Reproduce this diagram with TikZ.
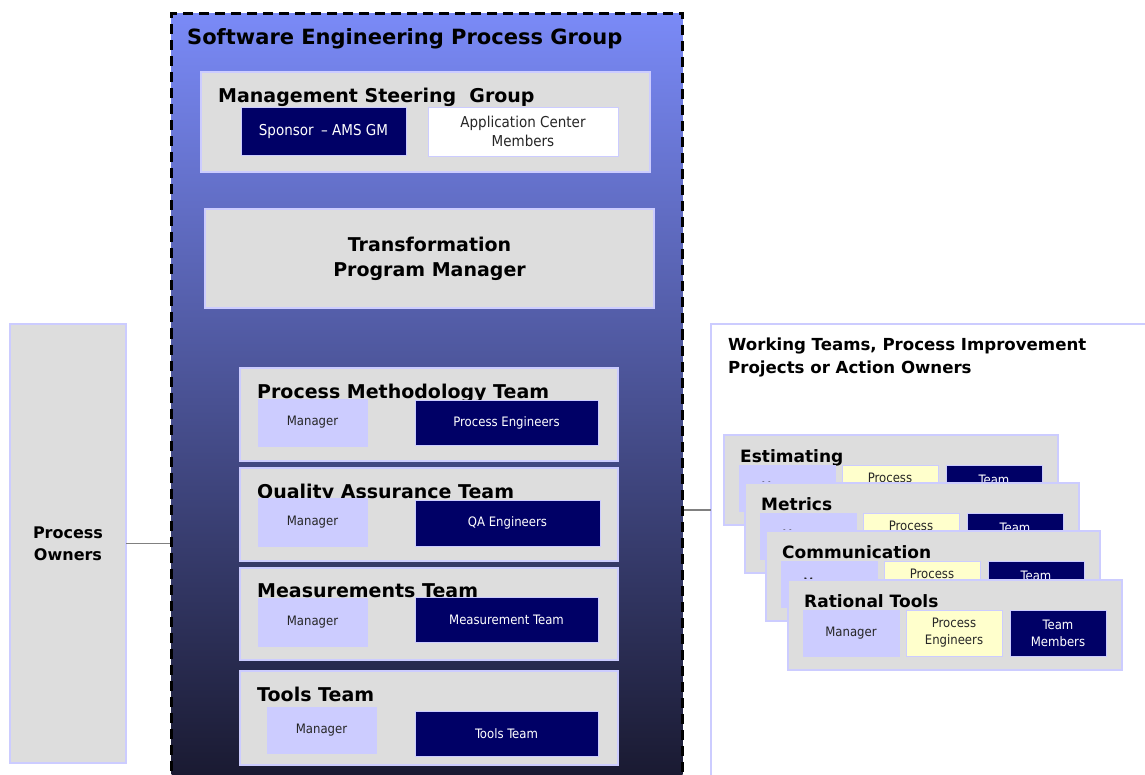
\documentclass[tikz,border=0pt]{standalone}
\usepackage{fontspec}
\setmainfont{DejaVu Sans}
\newfontfamily\condfont{DejaVu Sans Condensed}
\usetikzlibrary{positioning}

\definecolor{lav}{RGB}{204,204,255}
\definecolor{grey}{RGB}{221,221,221}
\definecolor{navy}{RGB}{0,0,102}
\definecolor{cream}{RGB}{255,255,204}
\definecolor{topblue}{RGB}{122,138,247}
\definecolor{midblue}{RGB}{78,90,176}
\definecolor{botblue}{RGB}{24,24,46}
\definecolor{linegrey}{RGB}{128,128,128}

\begin{document}
\begin{tikzpicture}[x=1pt,y=-1pt,
    box/.style={draw=lav,fill=grey,line width=1.2pt,inner sep=0pt,outer sep=0pt,anchor=north west},
    inbox/.style={draw=lav,line width=0.8pt,inner sep=0pt,outer sep=0pt,anchor=north west,
                  align=center,font=\condfont\fontsize{13}{17}\selectfont},
    mgrbox/.style={inbox,fill=lav,text=black!85},
    navybox/.style={inbox,fill=navy,text=white},
    creambox/.style={inbox,fill=cream,text=black!85},
    cardsub/.style={minimum width=96pt,minimum height=46pt},
    titletext/.style={anchor=base west,inner sep=0pt,font=\bfseries\fontsize{19}{23}\selectfont},
    cardtitle/.style={titletext,font=\bfseries\fontsize{17}{20}\selectfont},
    link/.style={draw=linegrey,line width=1.3pt}]
    \useasboundingbox (0,0) rectangle (1145,775);

    % left column
    \node[box,minimum width=116pt,minimum height=439pt,align=center,
          font=\bfseries\fontsize{16}{22}\selectfont] (PO) at (10,324) {Process\\Owners};

    % the process group
    \node[draw=black,line width=3pt,dash pattern=on 10pt off 6pt,top color=topblue,
          middle color=midblue,bottom color=botblue,inner sep=0pt,anchor=north west,
          minimum width=511pt,minimum height=775pt] (SEPG) at (170,12) {};
    \node[titletext,font=\bfseries\fontsize{21}{25}\selectfont] (SEPGt)
          at ([shift={(17,33)}]SEPG.north west) {Software Engineering Process Group};

    \node[box,minimum width=449pt,minimum height=100pt] (MSG) at (201,72) {};
    \node[titletext] (MSGt) at ([shift={(17,31)}]MSG.north west) {Management Steering~ Group};
    \node[navybox,minimum width=165pt,minimum height=48pt,font=\condfont\fontsize{15}{19}\selectfont,
          below right=35pt and 40pt of MSG.north west] (SP) {Sponsor\enspace– AMS GM};
    \node[inbox,fill=white,text=black!85,minimum width=190pt,minimum height=49pt,
          font=\condfont\fontsize{15}{19}\selectfont,right=22pt of SP.north east,anchor=north west] (AC)
          {Application Center\\Members};

    \node[box,minimum width=449pt,minimum height=99pt,align=center,
          font=\bfseries\fontsize{19}{25}\selectfont] (TPM) at (205,209) {Transformation\\Program Manager};

    \node[box,minimum width=378pt,minimum height=93pt] (PMT) at (240,368) {};
    \begin{scope}
        \clip (PMT.north west) rectangle ([shift={(378,31)}]PMT.north west);
        \node[titletext] (PMTt) at ([shift={(17,30)}]PMT.north west) {Process Methodology Team};
    \end{scope}
    \node[mgrbox,minimum width=109pt,minimum height=47pt,below right=31pt and 18pt of PMT.north west] (PMT1) {Manager};
    \node[navybox,minimum width=183pt,minimum height=45pt,below right=32pt and 175pt of PMT.north west] (PMT2) {Process Engineers};

    \node[box,minimum width=378pt,minimum height=93pt] (QAT) at (240,468) {};
    \begin{scope}
        \clip (QAT.north west) rectangle ([shift={(378,31)}]QAT.north west);
        \node[titletext] (QATt) at ([shift={(17,30)}]QAT.north west) {Quality Assurance Team};
    \end{scope}
    \node[mgrbox,minimum width=109pt,minimum height=48pt,below right=30pt and 18pt of QAT.north west] (QAT1) {Manager};
    \node[navybox,minimum width=185pt,minimum height=46pt,below right=32pt and 175pt of QAT.north west] (QAT2) {QA Engineers};

    \node[box,minimum width=378pt,minimum height=92pt] (MT) at (240,568) {};
    \node[titletext] (MTt) at ([shift={(17,29)}]MT.north west) {Measurements Team};
    \node[mgrbox,minimum width=109pt,minimum height=48pt,below right=30pt and 18pt of MT.north west] (MT1) {Manager};
    \node[navybox,minimum width=183pt,minimum height=45pt,below right=29pt and 175pt of MT.north west] (MT2) {Measurement Team};

    \node[box,minimum width=378pt,minimum height=94pt] (TT) at (240,671) {};
    \node[titletext] (TTt) at ([shift={(17,30)}]TT.north west) {Tools Team};
    \node[mgrbox,minimum width=109pt,minimum height=46pt,below right=36pt and 27pt of TT.north west] (TT1) {Manager};
    \node[navybox,minimum width=183pt,minimum height=45pt,below right=40pt and 175pt of TT.north west] (TT2) {Tools Team};

    % working teams
    \node[box,fill=white,minimum width=440pt,minimum height=460pt] (WT) at (711,324) {};
    \node[anchor=north west,inner sep=0pt,align=left,font=\bfseries\fontsize{16.6}{23}\selectfont] (WTt)
          at (728,338) {Working Teams, Process Improvement\\Projects or Action Owners};

    \node[box,minimum width=334pt,minimum height=90pt] (E) at (724,435) {};
    \node[cardtitle] (Et) at ([shift={(16,27)}]E.north west) {Estimating};
    \node[mgrbox,cardsub,below right=30pt and 15pt of E.north west] (E1) {Manager};
    \node[creambox,cardsub,right=7pt of E1.north east,anchor=north west] (E2) {Process\\Engineers};
    \node[navybox,cardsub,right=8pt of E2.north east,anchor=north west] (E3) {Team\\Members};

    \node[box,minimum width=334pt,minimum height=90pt,below right=48pt and 21pt of E.north west] (M) {};
    \node[cardtitle] (Mt) at ([shift={(16,27)}]M.north west) {Metrics};
    \node[mgrbox,cardsub,below right=30pt and 15pt of M.north west] (M1) {Manager};
    \node[creambox,cardsub,right=7pt of M1.north east,anchor=north west] (M2) {Process\\Engineers};
    \node[navybox,cardsub,right=8pt of M2.north east,anchor=north west] (M3) {Team\\Members};

    \node[box,minimum width=334pt,minimum height=90pt,below right=48pt and 21pt of M.north west] (C) {};
    \node[cardtitle] (Ct) at ([shift={(16,27)}]C.north west) {Communication};
    \node[mgrbox,cardsub,below right=30pt and 15pt of C.north west] (C1) {Manager};
    \node[creambox,cardsub,right=7pt of C1.north east,anchor=north west] (C2) {Process\\Engineers};
    \node[navybox,cardsub,right=8pt of C2.north east,anchor=north west] (C3) {Team\\Members};

    \node[box,minimum width=334pt,minimum height=90pt,below right=49pt and 22pt of C.north west] (R) {};
    \node[cardtitle] (Rt) at ([shift={(16,27)}]R.north west) {Rational Tools};
    \node[mgrbox,cardsub,below right=30pt and 15pt of R.north west] (R1) {Manager};
    \node[creambox,cardsub,right=7pt of R1.north east,anchor=north west] (R2) {Process\\Engineers};
    \node[navybox,cardsub,right=8pt of R2.north east,anchor=north west] (R3) {Team\\Members};

    % connectors
    \coordinate (Rc) at (SEPG.east |- 0,510);
    \draw[link] (PO.east) -- (PO.east -| SEPG.west);
    \draw[link] (Rc) -- (Rc -| WT.west);
\end{tikzpicture}
\end{document}
